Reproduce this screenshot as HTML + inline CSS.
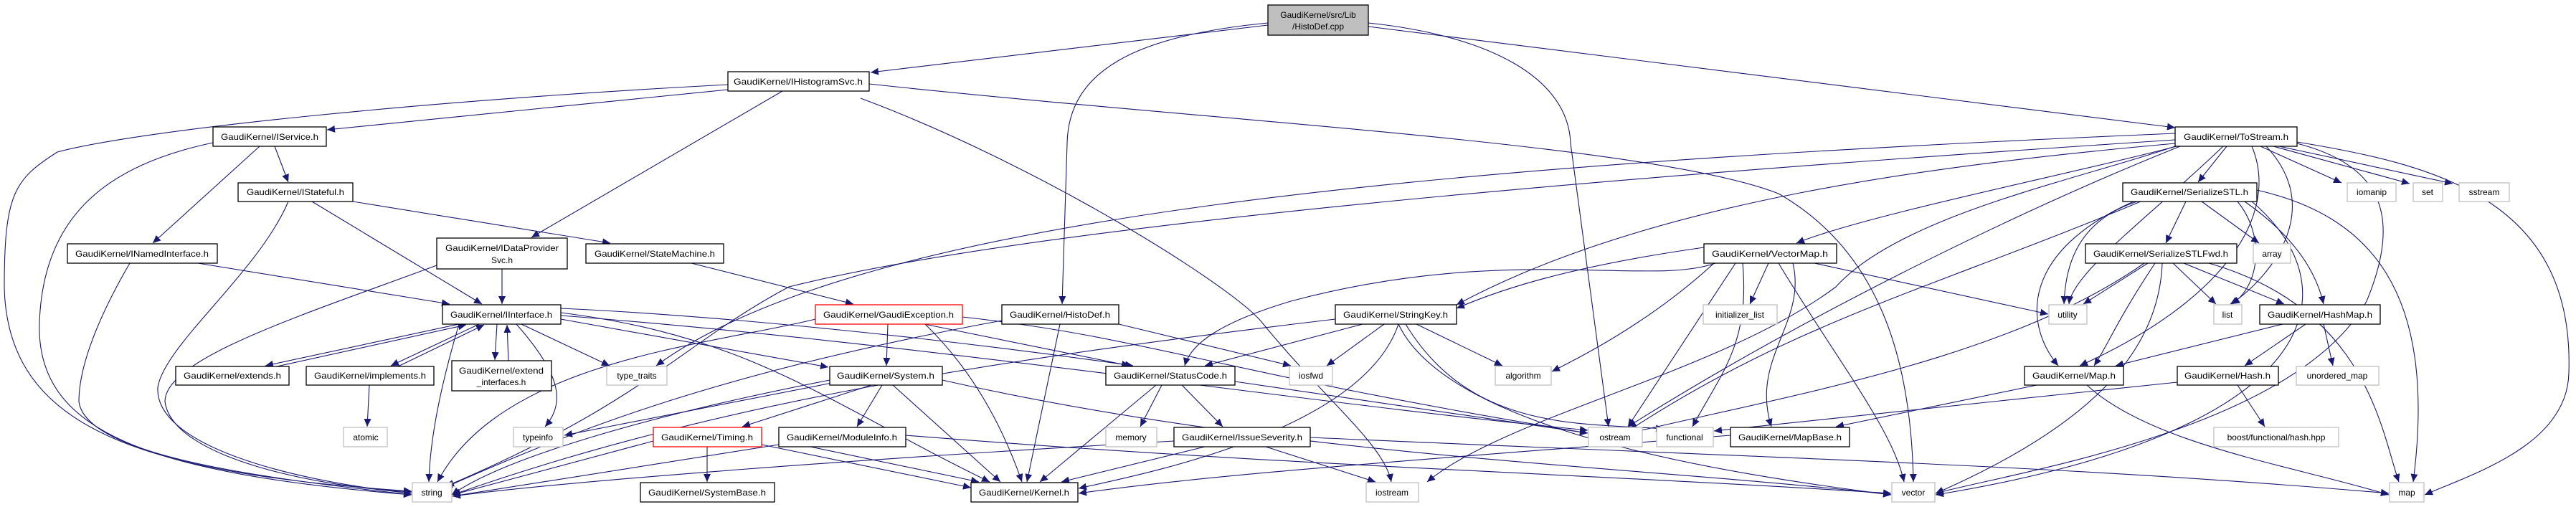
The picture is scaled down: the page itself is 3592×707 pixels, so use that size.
<!DOCTYPE html>
<html><head><meta charset="utf-8"><style>
html,body{margin:0;padding:0;background:#fff;}
svg{display:block;}
text{font-family:"Liberation Sans",sans-serif;font-size:12px;fill:#000;}
</style></head><body>
<svg width="3592" height="707" viewBox="0 0 3592 707" xmlns="http://www.w3.org/2000/svg">
<defs>
<marker id="a" markerUnits="userSpaceOnUse" markerWidth="12" markerHeight="10" refX="11" refY="5" orient="auto">
<path d="M0,0 L11,5 L0,10 z" fill="#191970"/>
</marker>
</defs>
<g fill="none" stroke="#191970" stroke-width="1.1" marker-end="url(#a)">
<path d="M1768,35 L1214,101"/>
<path d="M1908,37 L3033,178"/>
<path d="M1768,32 C1580,50 1490,100 1488,200 L1481,424"/>
<path d="M1908,32 C2080,50 2187,110 2190,200 L2243,595"/>
<path d="M1015,125 L456,181"/>
<path d="M1015,118 C600,140 200,180 80,212 C20,250 6,270 6,400 C10,600 200,660 574,685"/>
<path d="M1091,127 L741,331"/>
<path d="M1212,117 C1700,170 2300,200 2480,270 C2620,350 2665,500 2668,672"/>
<path d="M1200,137 C1450,230 1720,400 1760,450 C1850,560 1930,620 1940,672"/>
<path d="M383,204 L402,254"/>
<path d="M362,204 L213,339"/>
<path d="M297,199 C150,230 60,300 55,450 C50,600 200,660 574,690"/>
<path d="M435,281 L672,424"/>
<path d="M492,281 L851,339"/>
<path d="M402,281 C360,380 230,480 220,540 C215,620 400,670 574,688"/>
<path d="M276,367 L627,424"/>
<path d="M181,367 C150,420 110,500 110,560 C120,640 400,670 574,690"/>
<path d="M700,375 L700,424"/>
<path d="M609,370 C420,440 230,500 230,560 C240,640 450,680 574,686"/>
<path d="M964,367 L1190,424"/>
<path d="M640,452 L370,510"/>
<path d="M386,511 L650,453"/>
<path d="M668,452 L545,510"/>
<path d="M555,511 L675,453"/>
<path d="M693,452 L690,502"/>
<path d="M709,503 L707,453"/>
<path d="M727,452 L850,510"/>
<path d="M720,452 C780,520 790,560 760,595"/>
<path d="M782,445 L1155,512"/>
<path d="M782,430 C1000,440 1300,470 1580,510"/>
<path d="M782,436 C1050,470 1150,560 1380,672"/>
<path d="M782,440 C1300,480 1800,560 2214,600"/>
<path d="M640,452 C620,520 600,600 598,672"/>
<path d="M1238,452 L1236,510"/>
<path d="M1289,452 L1575,510"/>
<path d="M1290,452 C1360,520 1400,600 1425,672"/>
<path d="M1137,445 C1000,480 700,500 610,672"/>
<path d="M1560,452 L1800,510"/>
<path d="M1342,442 C1600,470 1700,520 2214,604"/>
<path d="M1478,452 L1432,672"/>
<path d="M1397,447 C1000,520 800,600 620,680"/>
<path d="M1215,537 L1035,595"/>
<path d="M1230,537 L1195,595"/>
<path d="M1245,537 L1395,672"/>
<path d="M1157,530 C900,580 700,640 630,690"/>
<path d="M1160,534 L787,607"/>
<path d="M1314,530 C1800,640 2300,650 2637,690"/>
<path d="M986,623 L986,672"/>
<path d="M1062,620 L1354,680"/>
<path d="M911,615 L631,690"/>
<path d="M1086,620 L631,692"/>
<path d="M1130,623 L1365,672"/>
<path d="M1263,607 C1800,650 2200,660 2637,688"/>
<path d="M1620,537 L1590,595"/>
<path d="M1648,537 L1705,595"/>
<path d="M1612,537 L1450,672"/>
<path d="M1722,532 L2214,604"/>
<path d="M1680,623 L1480,672"/>
<path d="M1765,623 L1918,672"/>
<path d="M1827,610 C2500,640 2900,650 3331,688"/>
<path d="M1637,615 C1200,640 800,670 631,692"/>
<path d="M1900,452 L1680,510"/>
<path d="M1930,452 L1850,510"/>
<path d="M1975,452 L2095,510"/>
<path d="M1960,452 C2050,600 2200,590 2320,598"/>
<path d="M1950,452 C1900,600 1600,660 1504,681"/>
<path d="M1950,452 C2020,600 2400,660 2637,690"/>
<path d="M1862,445 C1400,500 1000,560 631,690"/>
<path d="M3105,204 L3065,254"/>
<path d="M3152,204 L3265,255"/>
<path d="M3170,204 L3360,256"/>
<path d="M3178,204 L3420,256"/>
<path d="M3035,204 C2900,240 2600,300 2505,339"/>
<path d="M3033,200 C2700,230 2300,280 2031,425"/>
<path d="M3033,186 C2000,230 1200,300 915,510"/>
<path d="M3140,204 C3180,300 3100,420 2900,510"/>
<path d="M3160,204 C3250,300 3150,400 3110,424"/>
<path d="M3100,204 C3000,300 2890,380 2885,424"/>
<path d="M3203,200 C3320,230 3350,300 3300,420 C3200,600 2800,660 2699,688"/>
<path d="M3203,198 C3400,230 3590,280 3582,520 C3580,620 3450,660 3381,690"/>
<path d="M3040,204 C2800,300 2500,450 2270,595"/>
<path d="M3033,204 C2900,250 2650,300 2560,400 C2400,520 2100,580 1990,672"/>
<path d="M3033,195 C2500,230 1500,300 1100,400 C950,480 900,560 622,678"/>
<path d="M2376,345 C2200,370 2100,400 2031,430"/>
<path d="M2466,367 L2440,424"/>
<path d="M2530,367 L2856,438"/>
<path d="M2390,367 C2300,450 2200,500 2164,518"/>
<path d="M2420,367 L2270,595"/>
<path d="M2430,367 C2440,480 2400,520 2360,595"/>
<path d="M2480,367 C2560,500 2640,600 2655,672"/>
<path d="M2500,367 C2520,450 2440,500 2470,595"/>
<path d="M2392,367 C2300,400 2100,340 1800,420 C1700,450 1660,480 1652,510"/>
<path d="M3048,281 L3020,339"/>
<path d="M3070,281 L3150,339"/>
<path d="M2980,281 C2890,310 2880,380 2878,424"/>
<path d="M2975,281 C2820,350 2820,450 2870,510"/>
<path d="M3130,281 C3200,330 3230,380 3240,424"/>
<path d="M3120,281 C3160,330 3150,400 3112,424"/>
<path d="M3147,265 C3300,300 3400,400 3365,672"/>
<path d="M3140,281 C3280,400 3250,600 2699,690"/>
<path d="M2985,281 C2700,400 2500,450 2272,600"/>
<path d="M2995,367 L2905,424"/>
<path d="M3030,367 L3090,424"/>
<path d="M3045,367 L3185,424"/>
<path d="M3005,367 C2950,450 2940,480 2920,510"/>
<path d="M3080,367 C3300,430 3320,600 3345,672"/>
<path d="M3015,367 C3010,500 2900,600 2699,688"/>
<path d="M2990,367 C2800,500 2500,550 2272,604"/>
<path d="M3183,452 L2950,510"/>
<path d="M3215,452 L3130,510"/>
<path d="M3240,452 L3253,510"/>
<path d="M3120,537 L3158,595"/>
<path d="M3036,533 L2390,601"/>
<path d="M2840,537 L2560,595"/>
<path d="M2910,537 C3000,620 3200,650 3331,690"/>
<path d="M2413,607 C2000,640 1700,660 1504,688"/>
<path d="M515,537 L512,595"/>
</g>
<g stroke-width="1.3">
<rect x="1768" y="7" width="140" height="42" fill="#bfbfbf" stroke="#000"/>
<g fill="#fff" stroke="#000">
<rect x="1015" y="100" width="197" height="27"/>
<rect x="3033" y="177" width="170" height="27"/>
<rect x="297" y="177" width="158" height="27"/>
<rect x="332" y="255" width="160" height="26"/>
<rect x="2960" y="255" width="187" height="26"/>
<rect x="94" y="340" width="209" height="27"/>
<rect x="609" y="332" width="182" height="43"/>
<rect x="817" y="340" width="192" height="27"/>
<rect x="2376" y="340" width="185" height="27"/>
<rect x="2908" y="340" width="211" height="27"/>
<rect x="617" y="425" width="165" height="27"/>
<rect x="1397" y="425" width="163" height="27"/>
<rect x="1862" y="425" width="169" height="27"/>
<rect x="3151" y="425" width="168" height="27"/>
<rect x="245" y="511" width="158" height="26"/>
<rect x="427" y="511" width="178" height="26"/>
<rect x="630" y="503" width="139" height="42"/>
<rect x="1157" y="511" width="157" height="26"/>
<rect x="1542" y="511" width="180" height="26"/>
<rect x="2823" y="511" width="138" height="26"/>
<rect x="3036" y="511" width="141" height="26"/>
<rect x="1086" y="596" width="177" height="27"/>
<rect x="1637" y="596" width="190" height="27"/>
<rect x="2413" y="596" width="166" height="27"/>
<rect x="893" y="673" width="187" height="27"/>
<rect x="1354" y="673" width="149" height="27"/>
</g>
<g fill="#fff" stroke="#f00">
<rect x="1137" y="425" width="205" height="27"/>
<rect x="911" y="596" width="151" height="27"/>
</g>
<g fill="#fff" stroke="#bfbfbf">
<rect x="3273" y="255" width="68" height="26"/>
<rect x="3365" y="255" width="41" height="26"/>
<rect x="3429" y="255" width="70" height="26"/>
<rect x="3142" y="340" width="52" height="27"/>
<rect x="2375" y="425" width="103" height="27"/>
<rect x="2857" y="425" width="53" height="27"/>
<rect x="3087" y="425" width="39" height="27"/>
<rect x="846" y="511" width="84" height="26"/>
<rect x="1798" y="511" width="60" height="26"/>
<rect x="2085" y="511" width="78" height="26"/>
<rect x="3202" y="511" width="115" height="26"/>
<rect x="479" y="596" width="61" height="27"/>
<rect x="716" y="596" width="69" height="27"/>
<rect x="1542" y="596" width="71" height="27"/>
<rect x="2215" y="596" width="75" height="27"/>
<rect x="2310" y="596" width="79" height="27"/>
<rect x="3087" y="596" width="174" height="27"/>
<rect x="575" y="673" width="55" height="27"/>
<rect x="1905" y="673" width="73" height="27"/>
<rect x="2638" y="673" width="60" height="27"/>
<rect x="3332" y="673" width="48" height="27"/>
</g>
</g>
<g text-anchor="middle">
<text x="1838" y="25">GaudiKernel/src/Lib</text>
<text x="1838" y="41">/HistoDef.cpp</text>
<text x="1113" y="118" textLength="180" lengthAdjust="spacingAndGlyphs">GaudiKernel/IHistogramSvc.h</text>
<text x="3118" y="195" textLength="146" lengthAdjust="spacingAndGlyphs">GaudiKernel/ToStream.h</text>
<text x="376" y="195" textLength="136" lengthAdjust="spacingAndGlyphs">GaudiKernel/IService.h</text>
<text x="412" y="272" textLength="136" lengthAdjust="spacingAndGlyphs">GaudiKernel/IStateful.h</text>
<text x="3053" y="272" textLength="164" lengthAdjust="spacingAndGlyphs">GaudiKernel/SerializeSTL.h</text>
<text x="3307" y="272">iomanip</text>
<text x="3385" y="272">set</text>
<text x="3464" y="272">sstream</text>
<text x="198" y="358" textLength="186" lengthAdjust="spacingAndGlyphs">GaudiKernel/INamedInterface.h</text>
<text x="700" y="350" textLength="158" lengthAdjust="spacingAndGlyphs">GaudiKernel/IDataProvider</text>
<text x="700" y="367">Svc.h</text>
<text x="913" y="358" textLength="168" lengthAdjust="spacingAndGlyphs">GaudiKernel/StateMachine.h</text>
<text x="2468" y="358" textLength="162" lengthAdjust="spacingAndGlyphs">GaudiKernel/VectorMap.h</text>
<text x="3013" y="358" textLength="188" lengthAdjust="spacingAndGlyphs">GaudiKernel/SerializeSTLFwd.h</text>
<text x="3168" y="358">array</text>
<text x="699" y="443" textLength="142" lengthAdjust="spacingAndGlyphs">GaudiKernel/IInterface.h</text>
<text x="1239" y="443" textLength="182" lengthAdjust="spacingAndGlyphs">GaudiKernel/GaudiException.h</text>
<text x="1478" y="443" textLength="140" lengthAdjust="spacingAndGlyphs">GaudiKernel/HistoDef.h</text>
<text x="1946" y="443" textLength="146" lengthAdjust="spacingAndGlyphs">GaudiKernel/StringKey.h</text>
<text x="2426" y="443">initializer_list</text>
<text x="2883" y="443">utility</text>
<text x="3106" y="443">list</text>
<text x="3235" y="443" textLength="146" lengthAdjust="spacingAndGlyphs">GaudiKernel/HashMap.h</text>
<text x="324" y="528" textLength="136" lengthAdjust="spacingAndGlyphs">GaudiKernel/extends.h</text>
<text x="516" y="528" textLength="156" lengthAdjust="spacingAndGlyphs">GaudiKernel/implements.h</text>
<text x="699" y="521" textLength="118" lengthAdjust="spacingAndGlyphs">GaudiKernel/extend</text>
<text x="699" y="537">_interfaces.h</text>
<text x="888" y="528">type_traits</text>
<text x="1235" y="528" textLength="136" lengthAdjust="spacingAndGlyphs">GaudiKernel/System.h</text>
<text x="1632" y="528" textLength="158" lengthAdjust="spacingAndGlyphs">GaudiKernel/StatusCode.h</text>
<text x="1828" y="528">iosfwd</text>
<text x="2124" y="528">algorithm</text>
<text x="2892" y="528" textLength="116" lengthAdjust="spacingAndGlyphs">GaudiKernel/Map.h</text>
<text x="3106" y="528" textLength="120" lengthAdjust="spacingAndGlyphs">GaudiKernel/Hash.h</text>
<text x="3259" y="528">unordered_map</text>
<text x="510" y="614">atomic</text>
<text x="750" y="614">typeinfo</text>
<text x="986" y="614" textLength="128" lengthAdjust="spacingAndGlyphs">GaudiKernel/Timing.h</text>
<text x="1174" y="614" textLength="154" lengthAdjust="spacingAndGlyphs">GaudiKernel/ModuleInfo.h</text>
<text x="1577" y="614">memory</text>
<text x="1732" y="614" textLength="168" lengthAdjust="spacingAndGlyphs">GaudiKernel/IssueSeverity.h</text>
<text x="2252" y="614">ostream</text>
<text x="2349" y="614">functional</text>
<text x="2496" y="614" textLength="144" lengthAdjust="spacingAndGlyphs">GaudiKernel/MapBase.h</text>
<text x="3174" y="614">boost/functional/hash.hpp</text>
<text x="602" y="691">string</text>
<text x="986" y="691" textLength="164" lengthAdjust="spacingAndGlyphs">GaudiKernel/SystemBase.h</text>
<text x="1428" y="691" textLength="126" lengthAdjust="spacingAndGlyphs">GaudiKernel/Kernel.h</text>
<text x="1941" y="691">iostream</text>
<text x="2668" y="691">vector</text>
<text x="3356" y="691">map</text>
</g>
</svg>
</body></html>
